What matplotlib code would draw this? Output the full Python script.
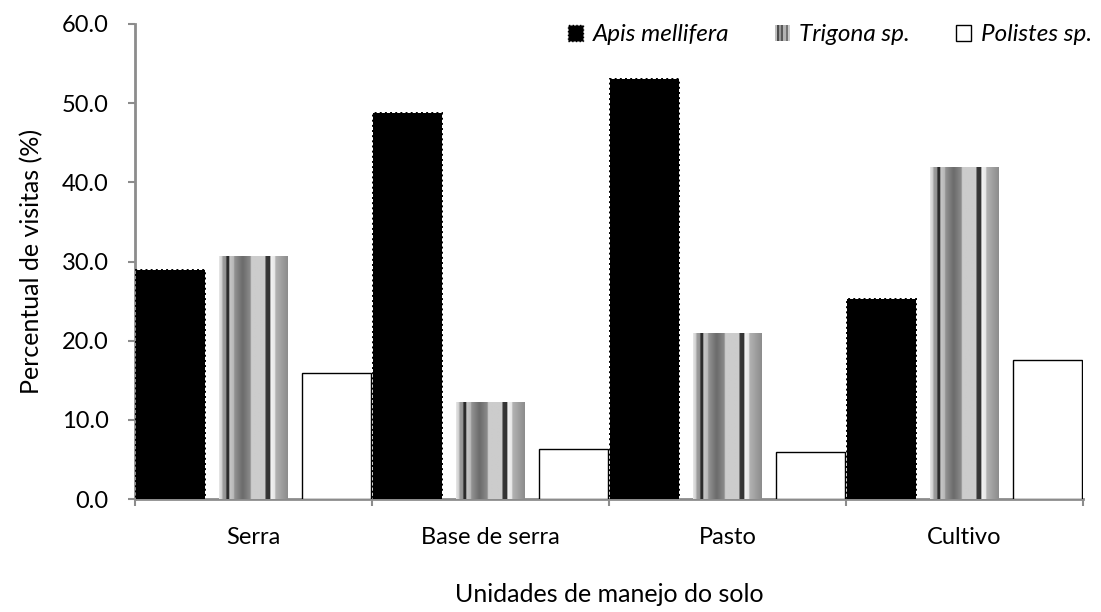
import numpy as np
import matplotlib
matplotlib.use("Agg")
import matplotlib.pyplot as plt
from matplotlib.patches import Rectangle
from matplotlib.legend_handler import HandlerBase

plt.rcParams['font.family'] = ['Lato', 'DejaVu Sans']

categories = ["Serra", "Base de serra", "Pasto", "Cultivo"]
species = ["Apis mellifera", "Trigona sp.", "Polistes sp."]
apis = [28.9, 48.7, 53.1, 25.3]
trigona = [30.6, 12.2, 20.9, 41.9]
polistes = [15.9, 6.3, 5.9, 17.6]

# grey stripe profile used for the Trigona bars (left -> right across a bar)
stripe_pos = [0, 3, 3.5, 7, 7.5, 10, 10.5, 15, 15.5, 24, 32, 32.5, 47, 47.5, 52, 52.5, 57, 57.5, 70]
stripe_val = [0.90, 0.80, 0.62, 0.58, 0.18, 0.15, 0.78, 0.72, 0.58, 0.42, 0.55, 0.80, 0.80, 0.22, 0.20, 0.95, 0.90, 0.70, 0.55]
profile = np.interp(np.linspace(0, 70, 140), stripe_pos, stripe_val)

fig = plt.figure(figsize=(11.01, 6.12), dpi=100)
ax = fig.add_axes([0.1226, 0.1846, 0.8611, 0.7762])

x = np.arange(len(categories))
w = 0.29
off = 0.35

ax.bar(x - off, apis, w, color="black", edgecolor="black", linestyle=":", linewidth=1.4, zorder=3)
tb = ax.bar(x, trigona, w, color="none", edgecolor="none", zorder=3)
for r in tb:
    x0, h, bw = r.get_x(), r.get_height(), r.get_width()
    ax.imshow(profile[None, :], cmap="gray", vmin=0, vmax=1, aspect="auto",
              interpolation="bilinear", extent=(x0, x0 + bw, 0, h), zorder=3)
ax.bar(x + off, polistes, w, color="white", edgecolor="black", linewidth=1.0, zorder=3)

ax.set_xlim(-0.5, len(categories) - 0.5)
ax.set_ylim(0, 60)
ax.set_yticks(np.arange(0, 61, 10))
ax.set_yticklabels(["%.1f" % v for v in np.arange(0, 61, 10)], fontsize=17)
ax.set_xticks(np.arange(len(categories) + 1) - 0.5)
ax.set_xticklabels([])
ax.set_xticks(x, minor=True)
ax.set_xticklabels(categories, minor=True, fontsize=17)
ax.tick_params(axis="x", which="minor", length=0, pad=20)
ax.tick_params(axis="both", which="major", length=5, width=1.5, color="#8c8c8c")
ax.tick_params(axis="y", pad=14)

for s in ["top", "right"]:
    ax.spines[s].set_visible(False)
for s in ["left", "bottom"]:
    ax.spines[s].set_color("#8c8c8c")
    ax.spines[s].set_linewidth(2)

ax.set_ylabel("Percentual de visitas (%)", fontsize=18, labelpad=13)
ax.set_xlabel("Unidades de manejo do solo", fontsize=18, labelpad=25)


class StripeHandler(HandlerBase):
    def create_artists(self, legend, orig_handle, xdescent, ydescent, width, height, fontsize, trans):
        arts = []
        n = 7
        greys = [0.75, 0.3, 0.6, 0.35, 0.7, 0.45, 0.8]
        for i in range(n):
            arts.append(Rectangle((xdescent + i * width / n, -ydescent), width / n, height,
                                  facecolor=str(greys[i]), edgecolor="none", transform=trans))
        return arts


h_apis = Rectangle((0, 0), 1, 1, facecolor="black", edgecolor="black", linestyle=":")
h_trig = Rectangle((0, 0), 1, 1)
h_pol = Rectangle((0, 0), 1, 1, facecolor="white", edgecolor="black", linewidth=1.0)
ax.legend([h_apis, h_trig, h_pol], species, handler_map={h_trig: StripeHandler()},
          loc="upper right", bbox_to_anchor=(1.032, 1.045), ncol=3, frameon=False,
          prop={"style": "italic", "size": 17.5}, handlelength=0.6, handleheight=0.6,
          handletextpad=0.4, columnspacing=1.9)

fig.savefig("out.png", dpi=100)
